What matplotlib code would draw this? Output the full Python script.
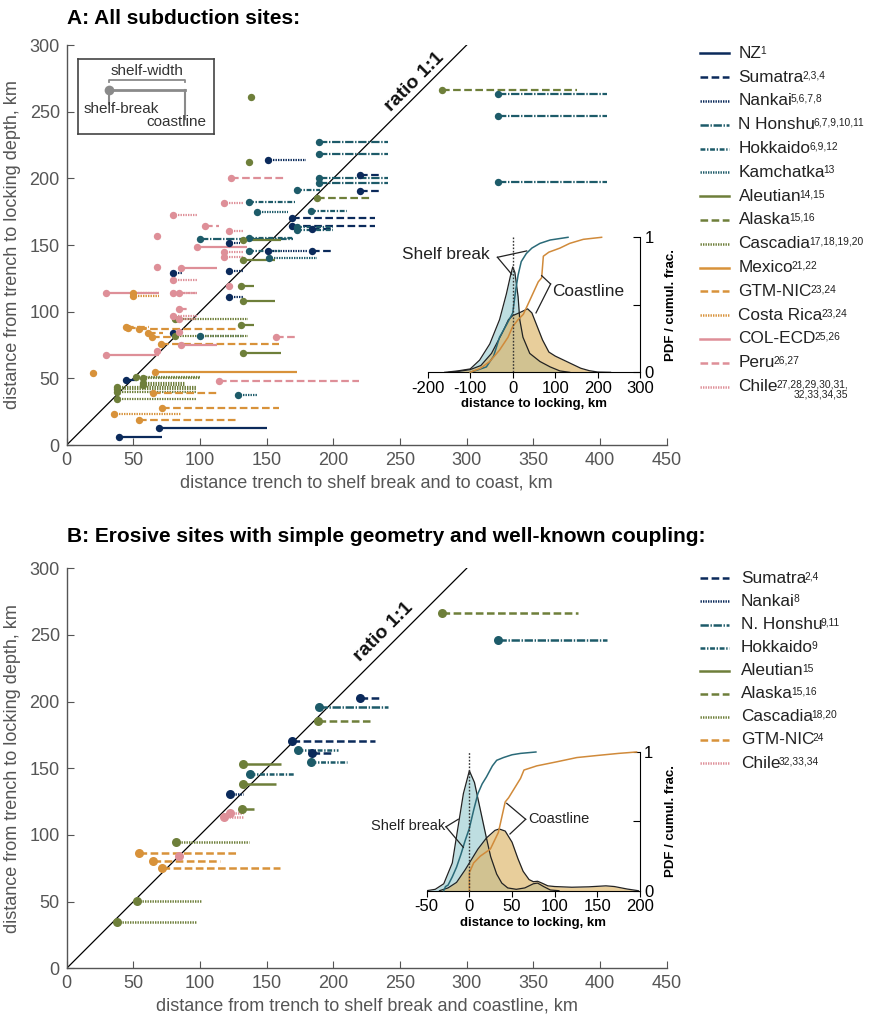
import matplotlib
matplotlib.use("Agg")
import matplotlib.pyplot as plt
from matplotlib.lines import Line2D

plt.rcParams['font.family'] = ['Liberation Sans', 'DejaVu Sans']
plt.rcParams['lines.scale_dashes'] = False
plt.rcParams['axes.unicode_minus'] = False

NAVY = '#0b2a5b'
TEAL = '#1d5b69'
OLIVE = '#6e7f3a'
ORANGE = '#d8923a'
PINK = '#de8f98'
GRAY = '#555555'

SOLID = '-'
DASHED = (0, (5.5, 2.5))
DOTTED = (0, (1.0, 0.8))
DASHDOT_LONG = (0, (6, 1.2, 1, 1.2))
DASHDOT_SHORT = (0, (3.5, 1.2, 1, 1.2))

# ---- panel A: (shelf break, coastline, locking depth) in km ----
a_nz = [(39.5, 71.5, 5.75), (69.25, 150.5, 12.75), (44.5, 52.5, 48.75)]
a_sumatra = [(220, 236, 202.5), (220, 236, 190.5), (169, 231, 170.5),
             (169, 231, 164.5), (184, 200, 162), (184, 200, 145.5)]
a_nankai = [(151, 179.5, 213.5), (122, 130, 151.5), (151, 180, 145.5),
            (80, 87.5, 128.75), (122, 132, 130.5), (122, 132, 110.75), (80, 84, 83.75)]
a_nhonshu = [(323.75, 405, 263.25), (323.75, 405, 246.5), (323.75, 405, 197),
             (189, 241, 227.5), (189, 241, 218.5), (189, 241, 200),
             (189, 241, 196.75), (100, 170, 154.5)]
a_hokkaido = [(173, 190, 191.5), (137, 171, 182.5), (183, 210.5, 175.5),
              (173, 200, 163.5), (173, 200, 161.5), (137, 170, 155.5), (137, 160, 145.5)]
a_kamchatka = [(143, 166, 174.5), (152, 187.5, 140.5), (100, 132.5, 81.5),
               (128.25, 143.75, 37.75)]
a_aleutian = [(138, 138, 261), (137, 137, 212.5), (132, 160.5, 153.5),
              (132, 156, 138.5), (131, 140.5, 119.5), (132, 156, 107.75),
              (131, 140.5, 89.75), (132, 160.5, 68.75)]
a_alaska = [(281.75, 382.5, 266.25), (188, 227.5, 185.5)]
a_cascadia = [(81.25, 136.25, 94.25), (81, 136, 81.5), (52.25, 100, 50.75),
              (57.25, 100, 50.25), (57.25, 88.75, 46.25), (57.25, 88.75, 44.75),
              (37.5, 97, 43.75), (37.5, 97, 41.75), (37.5, 97, 39.75), (37.5, 97, 34.75)]
a_mexico = [(66.25, 172.5, 54.75)]
a_gtmnic = [(44.25, 62, 88.75), (46.25, 62, 88), (54, 127.5, 86.75), (61, 72, 83.75),
            (64, 78, 80.75), (71, 159.5, 75.75), (64.5, 114.5, 38.75),
            (71.25, 159.5, 27.75), (54.25, 127.5, 18.75)]
a_costarica = [(49.5, 69.5, 113.75), (49.5, 69.5, 111.75), (19.5, 23.75, 53.75),
               (35.5, 85.5, 23)]
a_colecd = [(98, 135, 148.5), (85.5, 112.5, 132.5), (29.5, 69.5, 113.75),
            (85.5, 112.5, 74.75), (29.5, 69.5, 67.75)]
a_peru = [(123, 164.5, 200.5), (104, 114.5, 164.5), (67.5, 70, 156.5),
          (67.5, 70, 133.75), (84, 90, 101.75), (157, 171.5, 80.75),
          (114.25, 219.25, 47.75), (67.5, 67.5, 70.75)]
a_chile = [(118, 132.5, 181.5), (80, 97.5, 172.5), (122, 132, 160.5),
           (118, 132.5, 144.5), (118, 132.5, 141), (80, 97.5, 123.5),
           (122, 125, 119.5), (80, 97.5, 113.75), (84, 97.5, 113.75),
           (80, 97.5, 96.75), (84, 97, 94.25), (84, 84, 84.75)]

# ---- panel B ----
b_sumatra = [(220.25, 236.25, 202.5), (169.25, 231.25, 170.25), (184.25, 200, 161.5)]
b_nankai = [(122.25, 132, 130.5)]
b_nhonshu = [(323.75, 405, 246.25), (189.25, 241.25, 196.25)]
b_hokkaido = [(173.25, 203.75, 163.5), (183.25, 210.5, 154.5), (137.25, 170.75, 145.5)]
b_aleutian = [(132.25, 160.5, 153.5), (132.25, 156.75, 138.5), (131.25, 140.5, 119.5)]
b_alaska = [(281.75, 383.25, 266.25), (188.25, 227.5, 185.25)]
b_cascadia = [(82.25, 136.75, 94.5), (52.5, 101.25, 50.5), (37.5, 97.5, 34.5)]
b_gtmnic = [(54.25, 127.5, 86.5), (64.5, 115, 80.5), (71.25, 160, 75.5)]
b_chile = [(122.25, 132.5, 116.5), (118.25, 132.5, 113.5), (84.25, 84.25, 84.5)]

# ---- inset PDFs / CDFs ----
a_shelf_pdf_x = [-160, -130, -100, -78, -54, -31, -15, -5, 0, 5, 12.6, 16.5, 24, 40, 64, 88, 111, 134]
a_shelf_pdf_y = [0, 0.01, 0.025, 0.09, 0.21, 0.39, 0.58, 0.72, 0.78, 0.74, 0.56, 0.39, 0.26, 0.14, 0.08, 0.04, 0.01, 0]
a_coast_pdf_x = [-150, -125, -100, -75, -50, -25, -10, 0, 15, 35, 45, 55, 70, 85, 100, 120, 140, 160, 180, 200, 230]
a_coast_pdf_y = [0, 0.008, 0.02, 0.05, 0.14, 0.29, 0.39, 0.42, 0.44, 0.47, 0.44, 0.36, 0.24, 0.15, 0.12, 0.09, 0.06, 0.03, 0.012, 0.002, 0]
a_shelf_cdf_x = [-100, -80, -62, -45, -31, -15, 0, 7, 12.6, 20, 32, 45, 64, 88, 130]
a_shelf_cdf_y = [0, 0.02, 0.04, 0.12, 0.26, 0.35, 0.44, 0.61, 0.72, 0.82, 0.88, 0.92, 0.955, 0.98, 1.0]
a_coast_cdf_x = [-100, -76, -54, -31, -11, 0, 12.6, 25, 44, 60, 68, 72, 85, 111, 134, 166, 209]
a_coast_cdf_y = [0, 0.03, 0.08, 0.165, 0.26, 0.34, 0.39, 0.43, 0.56, 0.67, 0.70, 0.86, 0.89, 0.92, 0.955, 0.985, 1.0]

b_shelf_pdf_x = [-50, -40, -30, -20, -13, -7, 0, 6, 13, 20, 25, 32, 38, 45, 55, 65, 75, 80, 87, 95, 105]
b_shelf_pdf_y = [0, 0.01, 0.05, 0.2, 0.47, 0.7, 0.865, 0.78, 0.58, 0.38, 0.245, 0.12, 0.055, 0.02, 0.01, 0.02, 0.05, 0.055, 0.03, 0.005, 0]
b_coast_pdf_x = [-35, -25, -15, -5, 0, 10, 20, 30, 35, 42, 50, 57, 63, 70, 75, 80, 85, 92, 100, 120, 140, 160, 170, 185, 198]
b_coast_pdf_y = [0, 0.02, 0.06, 0.15, 0.2, 0.3, 0.38, 0.435, 0.445, 0.43, 0.35, 0.23, 0.14, 0.08, 0.065, 0.068, 0.055, 0.035, 0.03, 0.025, 0.028, 0.035, 0.03, 0.012, 0]
b_shelf_cdf_x = [-30, -28, -25, -20, -15, -10, -5, 0, 5, 10, 15, 20, 27, 32, 40, 50, 60, 78]
b_shelf_cdf_y = [0, 0.03, 0.04, 0.1, 0.17, 0.26, 0.36, 0.45, 0.58, 0.7, 0.77, 0.82, 0.9, 0.94, 0.96, 0.98, 0.99, 1.0]
b_coast_cdf_x = [0, 0, 5, 13, 24.6, 34, 42, 46, 60, 64, 79, 103, 126, 150, 175, 196]
b_coast_cdf_y = [0, 0.13, 0.2, 0.25, 0.3, 0.42, 0.64, 0.67, 0.81, 0.87, 0.9, 0.93, 0.96, 0.975, 0.99, 1.0]

series_a = [
    (a_nz, 'NZ', '1', NAVY, SOLID),
    (a_sumatra, 'Sumatra', '2,3,4', NAVY, DASHED),
    (a_nankai, 'Nankai', '5,6,7,8', NAVY, DOTTED),
    (a_nhonshu, 'N Honshu', '6,7,9,10,11', TEAL, DASHDOT_LONG),
    (a_hokkaido, 'Hokkaido', '6,9,12', TEAL, DASHDOT_SHORT),
    (a_kamchatka, 'Kamchatka', '13', TEAL, DOTTED),
    (a_aleutian, 'Aleutian', '14,15', OLIVE, SOLID),
    (a_alaska, 'Alaska', '15,16', OLIVE, DASHED),
    (a_cascadia, 'Cascadia', '17,18,19,20', OLIVE, DOTTED),
    (a_mexico, 'Mexico', '21,22', ORANGE, SOLID),
    (a_gtmnic, 'GTM-NIC', '23,24', ORANGE, DASHED),
    (a_costarica, 'Costa Rica', '23,24', ORANGE, DOTTED),
    (a_colecd, 'COL-ECD', '25,26', PINK, SOLID),
    (a_peru, 'Peru', '26,27', PINK, DASHED),
    (a_chile, 'Chile', '27,28,29,30,31,\n32,33,34,35', PINK, DOTTED),
]
series_b = [
    (b_sumatra, 'Sumatra', '2,4', NAVY, DASHED),
    (b_nankai, 'Nankai', '8', NAVY, DOTTED),
    (b_nhonshu, 'N. Honshu', '9,11', TEAL, DASHDOT_LONG),
    (b_hokkaido, 'Hokkaido', '9', TEAL, DASHDOT_SHORT),
    (b_aleutian, 'Aleutian', '15', OLIVE, SOLID),
    (b_alaska, 'Alaska', '15,16', OLIVE, DASHED),
    (b_cascadia, 'Cascadia', '18,20', OLIVE, DOTTED),
    (b_gtmnic, 'GTM-NIC', '24', ORANGE, DASHED),
    (b_chile, 'Chile', '32,33,34', PINK, DOTTED),
]

W, H = 869, 1019
fig = plt.figure(figsize=(W / 100, H / 100), dpi=100)
renderer = fig.canvas.get_renderer()


def px(x0, y0, x1, y1):
    # pixel box -> figure fraction rect
    return [x0 / W, 1 - y1 / H, (x1 - x0) / W, (y1 - y0) / H]


def style_main(ax, xlabel):
    ax.set_xlim(0, 450)
    ax.set_ylim(0, 300)
    for s in ['top', 'right']:
        ax.spines[s].set_visible(False)
    for s in ['left', 'bottom']:
        ax.spines[s].set_color(GRAY)
        ax.spines[s].set_linewidth(1.0)
    ax.set_xticks(range(0, 451, 50))
    ax.set_yticks(range(0, 301, 50))
    ax.tick_params(direction='in', length=5, color=GRAY, labelcolor=GRAY, labelsize=13, pad=5)
    ax.set_xlabel(xlabel, color=GRAY, fontsize=13, labelpad=4)
    ax.set_ylabel('distance from trench to locking depth, km', color=GRAY, fontsize=13, labelpad=6)
    ax.plot([0, 300], [0, 300], color='black', lw=0.9, zorder=1)


def draw_sites(ax, series, lw, ms):
    for sites, name, refs, color, ls in series:
        for shelf, coast, lock in sites:
            ax.plot([shelf, coast], [lock, lock], color=color, linestyle=ls, lw=lw,
                    solid_capstyle='butt', dash_capstyle='butt', zorder=2)
        ax.plot([s[0] for s in sites], [s[2] for s in sites], 'o', ls='none',
                color=color, ms=ms, mec='none', zorder=3)


def draw_key(series, x_line, x_text, y_first, dy, lw):
    for i, (sites, name, refs, color, ls) in enumerate(series):
        y = 1 - (y_first + i * dy) / H
        fig.add_artist(Line2D([x_line[0] / W, x_line[1] / W], [y, y], color=color,
                              linestyle=ls, lw=lw, transform=fig.transFigure))
        t = fig.text(x_text / W, y, name, fontsize=12.4, color='#222222', va='center', ha='left')
        bb = t.get_window_extent(renderer)
        fig.text((bb.x1 - 1.5) / W, (bb.y1 - 0.5) / H, refs, fontsize=7.4, color='#222222',
                 va='top', ha='left', multialignment='right', linespacing=0.95)


def style_inset(ax, xlim, xticks):
    ax.set_facecolor('none')
    ax.set_xlim(*xlim)
    ax.set_ylim(0, 1)
    for s in ['top', 'left']:
        ax.spines[s].set_visible(False)
    ax.yaxis.tick_right()
    ax.yaxis.set_label_position('right')
    ax.set_yticks([0, 0.5, 1])
    ax.set_yticklabels(['0', '', '1'])
    ax.set_xticks(xticks)
    ax.tick_params(axis='y', direction='in', length=5, labelsize=12, pad=3)
    ax.tick_params(axis='x', direction='out', length=4, labelsize=12, pad=2)
    for lab in ax.get_xticklabels() + ax.get_yticklabels():
        lab.set_fontweight('medium')
    ax.set_xlabel('distance to locking, km', fontsize=9.5, fontweight='bold', labelpad=2)
    ax.set_ylabel('PDF / cumul. frac.', fontsize=9.5, fontweight='bold', labelpad=8)
    ax.plot([0, 0], [0, 1], color='#333333', lw=1, linestyle=(0, (1.2, 1.2)), zorder=5)


def draw_inset(ax, sx, sy, cx, cy, scx, scy, ccx, ccy):
    ax.fill_between(sx, sy, color='#a9d4d8', alpha=0.75, lw=0, zorder=1)
    ax.fill_between(cx, cy, color='#dcb466', alpha=0.65, lw=0, zorder=2)
    ax.plot(sx, sy, color='#222222', lw=0.9, zorder=3)
    ax.plot(cx, cy, color='#222222', lw=0.9, zorder=3)
    ax.plot(scx, scy, color='#2a6a78', lw=1.1, zorder=4, clip_on=False)
    ax.plot(ccx, ccy, color='#d08a3a', lw=1.1, zorder=4, clip_on=False)


def callout(ax, text, xy_text, vertex, ends, ha, size):
    ax.text(xy_text[0], xy_text[1], text, ha=ha, va='center', fontsize=size, color='#222222')
    for e in ends:
        ax.plot([vertex[0], e[0]], [vertex[1], e[1]], color='#222222', lw=0.9, zorder=6)


# ================= Panel A =================
ax_a = fig.add_axes(px(66.7, 45, 666.7, 445))
style_main(ax_a, 'distance trench to shelf break and to coast, km')
draw_sites(ax_a, series_a, lw=1.6, ms=5.3)
ax_a.text(261, 272, 'ratio 1:1', rotation=45, rotation_mode='anchor', ha='center', va='center',
          fontsize=14, fontweight='bold', color='#111111')
fig.text(67 / W, 1 - 18 / H, 'A: All subduction sites:', fontsize=15, fontweight='bold', va='center')

draw_key(series_a, (700, 729), 738.5, 53.3, 23.8, 1.8)

# schematic key box
ax_s = fig.add_axes(px(78.3, 59.3, 214.3, 134))
ax_s.set_xlim(0, 1)
ax_s.set_ylim(0, 1)
ax_s.set_xticks([])
ax_s.set_yticks([])
for s in ax_s.spines.values():
    s.set_color('#444444')
    s.set_linewidth(1.2)
SG = '#8a8a8a'
ax_s.plot([0.228, 0.785], [0.589, 0.589], color=SG, lw=2)
ax_s.plot([0.228], [0.589], 'o', color=SG, ms=7, mec='none')
ax_s.plot([0.228, 0.228], [0.589, 0.40], color=SG, lw=1.5)
ax_s.plot([0.785, 0.785], [0.589, 0.20], color=SG, lw=1.5)
ax_s.plot([0.228, 0.228, 0.785, 0.785], [0.69, 0.723, 0.723, 0.69], color=SG, lw=1.3)
ax_s.text(0.504, 0.84, 'shelf-width', ha='center', va='center', fontsize=11, color='#333333')
ax_s.text(0.319, 0.33, 'shelf-break', ha='center', va='center', fontsize=11, color='#333333')
ax_s.text(0.72, 0.165, 'coastline', ha='center', va='center', fontsize=11, color='#333333')

# inset A
ax_ia = fig.add_axes(px(427.7, 237.3, 640.3, 372.3))
style_inset(ax_ia, (-200, 300), range(-200, 301, 100))
draw_inset(ax_ia, a_shelf_pdf_x, a_shelf_pdf_y, a_coast_pdf_x, a_coast_pdf_y,
           a_shelf_cdf_x, a_shelf_cdf_y, a_coast_cdf_x, a_coast_cdf_y)
callout(ax_ia, 'Shelf break', (-55, 0.87), (-36, 0.852), [(-2.4, 0.726), (32.8, 0.899)], 'right', 12.4)
callout(ax_ia, 'Coastline', (93, 0.60), (89, 0.654), [(68, 0.716), (54.7, 0.44)], 'left', 12.4)

# ================= Panel B =================
ax_b = fig.add_axes(px(66.7, 568.3, 666.7, 968.3))
style_main(ax_b, 'distance from trench to shelf break and coastline, km')
draw_sites(ax_b, series_b, lw=1.8, ms=6.5)
ax_b.text(238, 252.3, 'ratio 1:1', rotation=45, rotation_mode='anchor', ha='center', va='center',
          fontsize=14, fontweight='bold', color='#111111')
fig.text(67 / W, 1 - 537 / H, 'B: Erosive sites with simple geometry and well-known coupling:',
         fontsize=15, fontweight='bold', va='center')

draw_key(series_b, (700, 729), 740.7, 578.3, 23.1, 1.8)

ax_ib = fig.add_axes(px(426.7, 752, 640, 890.7))
style_inset(ax_ib, (-50, 200), range(-50, 201, 50))
draw_inset(ax_ib, b_shelf_pdf_x, b_shelf_pdf_y, b_coast_pdf_x, b_coast_pdf_y,
           b_shelf_cdf_x, b_shelf_cdf_y, b_coast_cdf_x, b_coast_cdf_y)
callout(ax_ib, 'Shelf break', (-28, 0.466), (-27.4, 0.461), [(-13, 0.515), (-7.1, 0.313)], 'right', 10.5)
callout(ax_ib, 'Coastline', (69, 0.517), (66, 0.515), [(43.8, 0.63), (47.6, 0.409)], 'left', 10.5)

fig.savefig('out.png', dpi=100)
